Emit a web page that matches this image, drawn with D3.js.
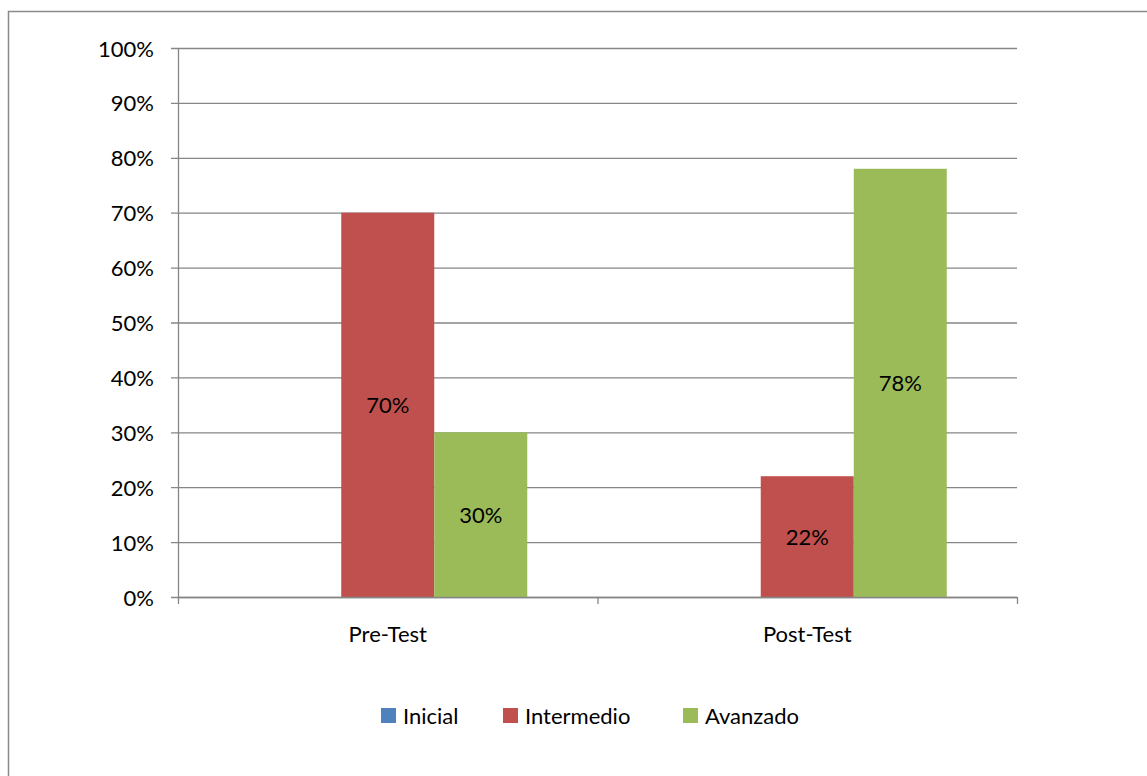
<!DOCTYPE html>
<html>
<head>
<meta charset="utf-8">
<script src="https://cdn.jsdelivr.net/npm/d3@7"></script>
<style>
  body { margin: 0; background: #fff; }
  svg text { font-family: Lato, "Open Sans", sans-serif; fill: #000; }
</style>
</head>
<body>
<div id="chart"></div>
<script>
// data
const categories = ["Pre-Test", "Post-Test"];
const seriesNames = ["Inicial", "Intermedio", "Avanzado"];
const seriesColors = ["#4F81BD", "#C0504D", "#9BBB59"];
const inicial = [0, 0];
const intermedio = [70, 22];
const avanzado = [30, 78];
const yTicks = [0, 10, 20, 30, 40, 50, 60, 70, 80, 90, 100];

const W = 1147, H = 776;
const plot = { left: 178, right: 1017, top: 48, bottom: 597 };
const fs = "22px";

const svg = d3.select("#chart").append("svg")
  .attr("width", W).attr("height", H);

// outer frame (runs off the right/bottom edge like the original)
svg.append("rect")
  .attr("x", 8.5).attr("y", 11.5)
  .attr("width", W + 20).attr("height", H + 20)
  .attr("fill", "none").attr("stroke", "#8a8a8a").attr("stroke-width", 1.5);

const x0 = d3.scaleBand().domain(categories).range([plot.left, plot.right]).paddingInner(0).paddingOuter(0);
const x1 = d3.scaleBand().domain(seriesNames).range([0, x0.bandwidth()]).paddingInner(0).paddingOuter(0.755);
const y = d3.scaleLinear().domain([0, 100]).range([plot.bottom, plot.top]);

// gridlines
svg.append("g").selectAll("line").data(yTicks).join("line")
  .attr("x1", plot.left - 7).attr("x2", plot.right)
  .attr("y1", d => y(d) + 0.5).attr("y2", d => y(d) + 0.5)
  .attr("stroke", "#868686").attr("stroke-width", 1.3);

// y axis line
svg.append("line")
  .attr("x1", plot.left + 0.5).attr("x2", plot.left + 0.5)
  .attr("y1", plot.top).attr("y2", plot.bottom)
  .attr("stroke", "#868686").attr("stroke-width", 1.3);

// y labels
svg.append("g").selectAll("text").data(yTicks).join("text")
  .attr("x", plot.left - 24).attr("y", d => y(d))
  .attr("text-anchor", "end").attr("dominant-baseline", "central")
  .style("font-size", fs)
  .text(d => d + "%");

// bars
const rows = categories.map((c, i) => ({
  cat: c,
  values: [inicial[i], intermedio[i], avanzado[i]]
}));

const groups = svg.append("g").selectAll("g").data(rows).join("g")
  .attr("transform", d => `translate(${x0(d.cat)},0)`);

groups.selectAll("rect").data(d => d.values.map((v, j) => ({ v, s: seriesNames[j], j })))
  .join("rect")
  .attr("x", d => x1(d.s))
  .attr("width", x1.bandwidth())
  .attr("y", d => y(d.v))
  .attr("height", d => y(0) - y(d.v))
  .attr("fill", d => seriesColors[d.j]);

groups.selectAll("text").data(d => d.values.map((v, j) => ({ v, s: seriesNames[j], j })).filter(d => d.v > 0))
  .join("text")
  .attr("x", d => x1(d.s) + x1.bandwidth() / 2)
  .attr("y", d => y(d.v / 2))
  .attr("text-anchor", "middle").attr("dominant-baseline", "central")
  .style("font-size", fs)
  .text(d => d.v + "%");

// x axis line + ticks
svg.append("line")
  .attr("x1", plot.left).attr("x2", plot.right)
  .attr("y1", plot.bottom + 0.5).attr("y2", plot.bottom + 0.5)
  .attr("stroke", "#868686").attr("stroke-width", 1.3);
const bounds = categories.map(c => x0(c)).concat([plot.right]);
svg.append("g").selectAll("line").data(bounds).join("line")
  .attr("x1", d => d + 0.5).attr("x2", d => d + 0.5)
  .attr("y1", plot.bottom).attr("y2", plot.bottom + 7)
  .attr("stroke", "#868686").attr("stroke-width", 1.3);

svg.append("g").selectAll("text").data(categories).join("text")
  .attr("x", d => x0(d) + x0.bandwidth() / 2)
  .attr("y", 633)
  .attr("text-anchor", "middle").attr("dominant-baseline", "central")
  .style("font-size", fs)
  .text(d => d);

// legend
const legendX = [381, 503, 683];
const legend = svg.append("g").selectAll("g").data(seriesNames).join("g")
  .attr("transform", (d, i) => `translate(${legendX[i]},715)`);
legend.append("rect")
  .attr("x", 0).attr("y", -7).attr("width", 15).attr("height", 15)
  .attr("fill", (d, i) => seriesColors[i]);
legend.append("text")
  .attr("x", 22).attr("y", 0)
  .attr("dominant-baseline", "central")
  .style("font-size", fs)
  .text(d => d);
</script>
</body>
</html>
